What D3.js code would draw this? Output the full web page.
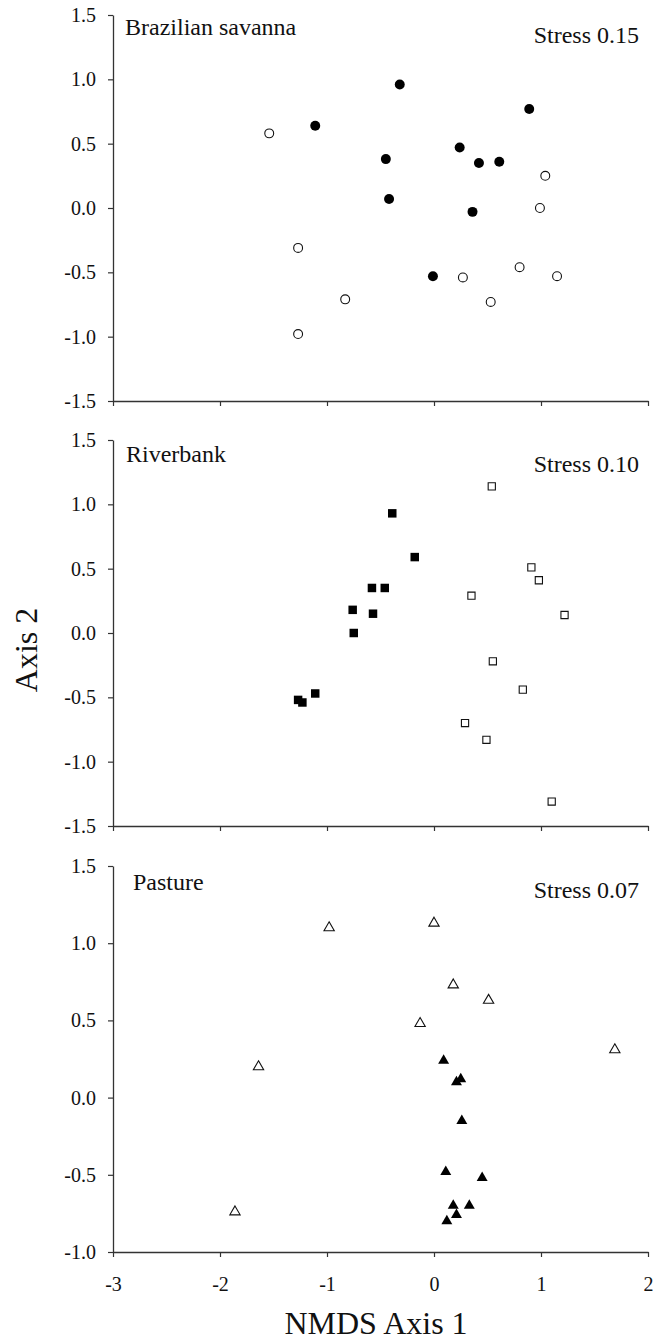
<!DOCTYPE html>
<html>
<head>
<meta charset="utf-8">
<script src="https://cdn.jsdelivr.net/npm/d3@7"></script>
<style>
  html, body { margin: 0; padding: 0; background: #fff; }
  svg { display: block; }
  text { font-family: "Liberation Serif", "Times New Roman", serif; fill: #111; }
</style>
</head>
<body>
<script>
// NMDS scores, [axis1, axis2]
const savannaOpen = [
  [-1.54, 0.58], [-1.27, -0.31], [-0.83, -0.71], [-1.27, -0.98], [0.27, -0.54],
  [0.53, -0.73], [0.80, -0.46], [1.15, -0.53], [1.04, 0.25], [0.99, 0.00]
];
const savannaFilled = [
  [-1.11, 0.64], [-0.32, 0.96], [-0.45, 0.38], [-0.42, 0.07], [0.24, 0.47],
  [0.42, 0.35], [0.61, 0.36], [0.89, 0.77], [0.36, -0.03], [-0.01, -0.53]
];
const riverOpen = [
  [0.54, 1.14], [0.91, 0.51], [0.98, 0.41], [0.35, 0.29], [1.22, 0.14],
  [0.55, -0.22], [0.83, -0.44], [0.29, -0.70], [0.49, -0.83], [1.10, -1.31]
];
const riverFilled = [
  [-0.39, 0.93], [-0.18, 0.59], [-0.58, 0.35], [-0.46, 0.35], [-0.76, 0.18],
  [-0.57, 0.15], [-0.75, 0.00], [-1.11, -0.47], [-1.27, -0.52], [-1.23, -0.54]
];
const pastureOpen = [
  [-0.98, 1.10], [0.00, 1.13], [0.18, 0.73], [0.51, 0.63], [-0.13, 0.48],
  [1.69, 0.31], [-1.64, 0.20], [-1.86, -0.74]
];
const pastureFilled = [
  [0.09, 0.24], [0.25, 0.12], [0.21, 0.10], [0.26, -0.15], [0.11, -0.48],
  [0.45, -0.52], [0.18, -0.70], [0.33, -0.70], [0.21, -0.76], [0.12, -0.80]
];

const panelNames = ["Brazilian savanna", "Riverbank", "Pasture"];
const stressLabels = ["Stress 0.15", "Stress 0.10", "Stress 0.07"];
const xTicks = [-3, -2, -1, 0, 1, 2];
const yTicksFull = [-1.5, -1.0, -0.5, 0.0, 0.5, 1.0, 1.5];
const yTicksPasture = [-1.0, -0.5, 0.0, 0.5, 1.0, 1.5];

const W = 653, H = 1340;
const left = 113, right = 648;
const serif = '"Liberation Serif", "Times New Roman", serif';

const panels = [
  { name: panelNames[0], stress: stressLabels[0], top: 15, bottom: 401, ydom: [-1.5, 1.5], yticks: yTicksFull,
    open: savannaOpen, filled: savannaFilled, shape: d3.symbolCircle, sizeOpen: 62, sizeFilled: 78,
    nameY: 20, stressY: 28, nameX: 125, showX: false },
  { name: panelNames[1], stress: stressLabels[1], top: 440, bottom: 826, ydom: [-1.5, 1.5], yticks: yTicksFull,
    open: riverOpen, filled: riverFilled, shape: d3.symbolSquare, sizeOpen: 52, sizeFilled: 72,
    nameY: 22, stressY: 32, nameX: 126, showX: false },
  { name: panelNames[2], stress: stressLabels[2], top: 866, bottom: 1252, ydom: [-1.0, 1.5], yticks: yTicksPasture,
    open: pastureOpen, filled: pastureFilled, shape: d3.symbolTriangle, sizeOpen: 46, sizeFilled: 52,
    nameY: 24, stressY: 32, nameX: 133, showX: true }
];

const svg = d3.select("body").append("svg")
  .attr("width", W)
  .attr("height", H);

const x = d3.scaleLinear().domain([-3, 2]).range([left, right]);
const fmtY = d => d3.format(".1f")(d).replace("\u2212", "-");
const fmtX = d => d3.format("d")(d).replace("\u2212", "-");

panels.forEach(p => {
  const y = d3.scaleLinear().domain(p.ydom).range([p.bottom, p.top]);
  const g = svg.append("g");

  const yAxis = g.append("g")
    .attr("transform", `translate(${left},0)`)
    .call(d3.axisLeft(y).tickValues(p.yticks).tickFormat(fmtY).tickSize(5).tickSizeOuter(0).tickPadding(12));

  const xAxis = g.append("g")
    .attr("transform", `translate(0,${p.bottom})`)
    .call(d3.axisBottom(x).tickValues(xTicks).tickFormat(p.showX ? fmtX : () => "")
      .tickSize(5).tickSizeOuter(0).tickPadding(20));

  [yAxis, xAxis].forEach(a => {
    a.attr("font-family", null).attr("font-size", null);
    a.select(".domain").attr("stroke", "#333").attr("stroke-width", 1.3);
    a.selectAll(".tick line").attr("stroke", "#333").attr("stroke-width", 1.2);
    a.selectAll(".tick text")
      .style("font-family", serif)
      .style("font-size", "20px")
      .attr("fill", "#111");
  });

  g.append("text")
    .attr("x", p.nameX)
    .attr("y", p.top + p.nameY)
    .style("font-size", "24px")
    .text(p.name);

  g.append("text")
    .attr("x", 639)
    .attr("y", p.top + p.stressY)
    .attr("text-anchor", "end")
    .style("font-size", "24px")
    .text(p.stress);

  g.selectAll("path.open")
    .data(p.open)
    .join("path")
    .attr("class", "open")
    .attr("transform", d => `translate(${x(d[0])},${y(d[1])})`)
    .attr("d", d3.symbol(p.shape, p.sizeOpen))
    .attr("fill", "#fff")
    .attr("stroke", "#111")
    .attr("stroke-width", 1.1);

  g.selectAll("path.filled")
    .data(p.filled)
    .join("path")
    .attr("class", "filled")
    .attr("transform", d => `translate(${x(d[0])},${y(d[1])})`)
    .attr("d", d3.symbol(p.shape, p.sizeFilled))
    .attr("fill", "#000");
});

// axis titles
svg.append("text")
  .attr("transform", "translate(37,650) rotate(-90)")
  .attr("text-anchor", "middle")
  .style("font-size", "32px")
  .text("Axis 2");

svg.append("text")
  .attr("x", 376)
  .attr("y", 1334)
  .attr("text-anchor", "middle")
  .style("font-size", "32px")
  .text("NMDS Axis 1");
</script>
</body>
</html>
